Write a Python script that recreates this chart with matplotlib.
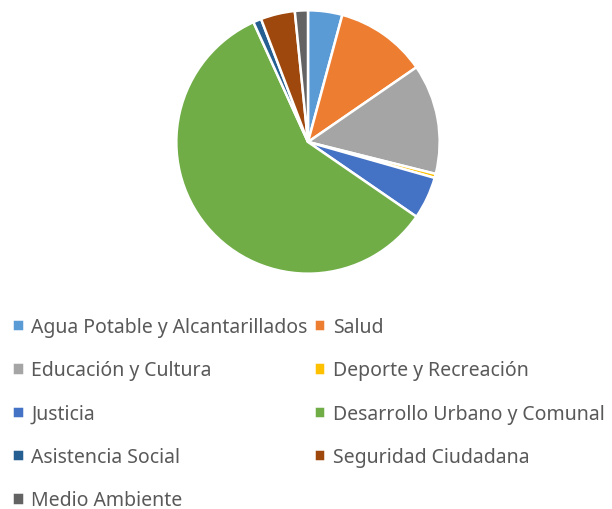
import matplotlib
matplotlib.use('Agg')
from matplotlib import pyplot as plt

plt.rcParams['font.family'] = ['Noto Sans', 'DejaVu Sans']

categorias = ['Agua Potable y Alcantarillados', 'Salud', 'Educación y Cultura',
              'Deporte y Recreación', 'Justicia', 'Desarrollo Urbano y Comunal',
              'Asistencia Social', 'Seguridad Ciudadana', 'Medio Ambiente']
porcentajes = [4.2, 11.2, 13.5, 0.5, 5.2, 58.6, 1.0, 4.2, 1.6]
colores = ['#5b9bd5', '#ed7d31', '#a5a5a5', '#ffc000', '#4472c4',
           '#70ad47', '#255e91', '#9e480e', '#636363']

fig = plt.figure(figsize=(6.12, 5.10), dpi=100)
ax = fig.add_axes([175/612, (510-276)/510, 266/612, 266/510])
wedges, _ = ax.pie(porcentajes, colors=colores, startangle=90, counterclock=False,
                   radius=1, wedgeprops=dict(edgecolor='white', linewidth=1.8))
ax.set_xlim(-1.01, 1.01)
ax.set_ylim(-1.01, 1.01)
ax.set_aspect('equal')

# legend filled row by row (matplotlib fills by column)
orden = [0, 2, 4, 6, 8, 1, 3, 5, 7]
leg = fig.legend([wedges[i] for i in orden], [categorias[i] for i in orden],
                 ncol=2, loc='upper left',
                 bbox_to_anchor=(12/612, 1 - 318/510), frameon=False,
                 fontsize=14, handlelength=0.6, handleheight=0.6,
                 handletextpad=0.4, columnspacing=0.3, labelspacing=1.2,
                 borderpad=0, borderaxespad=0)
for t in leg.get_texts():
    t.set_color('#595959')

fig.savefig('out.png', dpi=100)
